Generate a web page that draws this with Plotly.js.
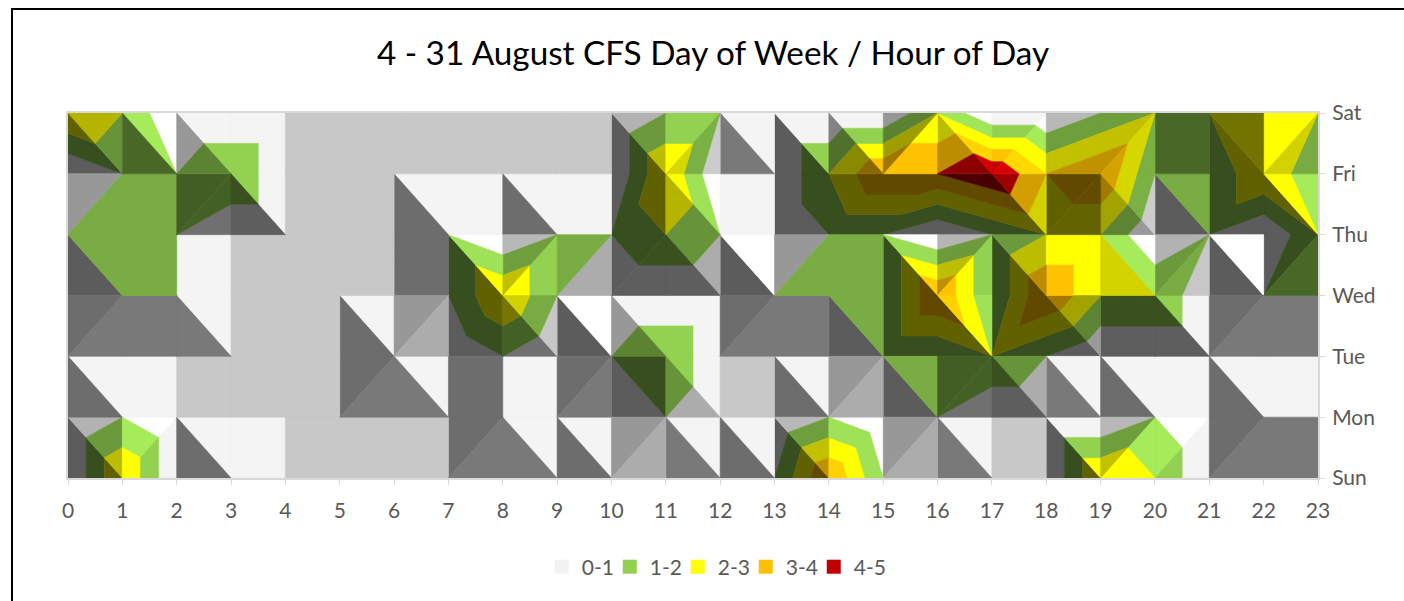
<!DOCTYPE html>
<html><head><meta charset="utf-8">
<script src="https://cdn.plot.ly/plotly-3.0.1.min.js"></script>
<style>
html,body{margin:0;padding:0;background:#fff;overflow:hidden}
#frame{position:absolute;left:11px;top:8px;width:1400px;height:600px;border:2px solid #000;box-sizing:border-box;pointer-events:none;z-index:5}
#chart{position:absolute;left:0;top:0;width:1404px;height:601px}
</style></head><body>
<div id="chart"></div><div id="frame"></div>
<script>
const hours = [0,1,2,3,4,5,6,7,8,9,10,11,12,13,14,15,16,17,18,19,20,21,22,23];
const days = ["Sun","Mon","Tue","Wed","Thu","Fri","Sat"];
const sun = [0,3,0,1,0,0,0,0,0,0,1,0,0,1,4,1,0,0,0,3,2,0,0,0];
const mon = [0,1,0,0,0,0,0,0,1,0,0,1,0,0,1,0,1,0,0,0,1,0,1,1];
const tue = [0,0,0,0,0,0,1,0,1,0,1,2,0,0,0,1,1,2,1,0,0,0,0,0];
const wed = [0,1,1,0,0,0,0,1,3,1,0,0,0,1,1,1,4,1,4,2,2,0,1,1];
const thu = [1,1,1,0,0,0,0,1,0,1,1,2,1,0,1,1,0,1,2,2,0,1,0,2];
const fri = [0,1,1,2,0,0,0,0,0,0,0,3,0,0,2,4,4,5,3,4,1,1,3,1];
const sat = [3,2,0,0,0,0,0,0,0,0,0,1,1,0,0,0,2,0,0,1,2,2,3,2];
const bandNames = ["0-1","1-2","2-3","3-4","4-5"];
const bandColors = [[242,242,242],[146,208,80],[255,255,0],[255,192,0],[192,0,0]];

const grid = [sun,mon,tue,wed,thu,fri,sat];

// Excel-like facet lighting from the slope of a triangle
function shade(gx,gy){
  if(gx===0&&gy===0) return 0.826;
  const m=Math.sqrt(gx*gx+gy*gy+1), nx=-gx/m, ny=-gy/m, nz=1/m;
  let raw=0.695+0.131*nz+0.478*nx+0.407*ny;
  if(nx>0&&ny>0) return 1+0.13*Math.min(1,2*Math.min(nx,ny)/Math.max(nx,ny));
  if(gx*gy<0) raw-=0.1+0.05*(Math.max(Math.abs(gx),Math.abs(gy))-1);
  if(raw>1.01) return 1.01;
  return Math.max(raw,0.38);
}
// clip a triangle [x,y,z] to lo<=z<=hi
function clip(poly,level,keepAbove){
  const out=[];
  for(let i=0;i<poly.length;i++){
    const a=poly[i],b=poly[(i+1)%poly.length];
    const ina=keepAbove?a[2]>=level:a[2]<=level, inb=keepAbove?b[2]>=level:b[2]<=level;
    if(ina) out.push(a);
    if(ina!==inb){const t=(level-a[2])/(b[2]-a[2]);out.push([a[0]+t*(b[0]-a[0]),a[1]+t*(b[1]-a[1]),level]);}
  }
  return out;
}
const groups={};
function addFacet(p,q,r,gx,gy){
  const f=shade(gx,gy);
  const flat=gx===0&&gy===0;
  bandColors.forEach((c,k)=>{
    if(flat && Math.min(Math.floor(p[2]),4)!==k) return;
    let poly=[p,q,r];
    if(!flat){
      poly=clip(poly,k,true); if(poly.length<3) return;
      poly=clip(poly,k+1,false); if(poly.length<3) return;
      let area=0;
      for(let i=0;i<poly.length;i++){const a=poly[i],b=poly[(i+1)%poly.length];area+=a[0]*b[1]-b[0]*a[1];}
      if(Math.abs(area)<1e-9) return;
    }
    const col="rgb("+c.map(v=>Math.min(255,Math.round(v*f))).join(",")+")";
    const g=groups[col]||(groups[col]={x:[],y:[]});
    poly.forEach(pt=>{g.x.push(pt[0]);g.y.push(pt[1]);});
    g.x.push(poly[0][0],null);g.y.push(poly[0][1],null);
  });
}
for(let j=0;j<days.length-1;j++){
  for(let i=0;i<hours.length-1;i++){
    const BL=[i,j,grid[j][i]],BR=[i+1,j,grid[j][i+1]],TL=[i,j+1,grid[j+1][i]],TR=[i+1,j+1,grid[j+1][i+1]];
    if(TL[2]+BR[2]>=TR[2]+BL[2]){
      addFacet(TL,BL,BR,BR[2]-BL[2],TL[2]-BL[2]);
      addFacet(TL,TR,BR,TR[2]-TL[2],TR[2]-BR[2]);
    }else{
      addFacet(BL,TL,TR,TR[2]-TL[2],TL[2]-BL[2]);
      addFacet(BL,BR,TR,BR[2]-BL[2],TR[2]-BR[2]);
    }
  }
}
const traces=Object.keys(groups).map(col=>({
  type:"scatter",mode:"lines",x:groups[col].x,y:groups[col].y,fill:"toself",fillcolor:col,
  line:{color:col,width:0.6},hoverinfo:"skip",showlegend:false,connectgaps:false
}));
bandNames.forEach((n,k)=>traces.push({
  type:"scatter",mode:"markers",x:[null],y:[null],name:n,showlegend:true,
  marker:{symbol:"square",size:14,color:"rgb("+bandColors[k].join(",")+")"}
}));
const tickFont={family:"Lato, Carlito, sans-serif",size:21,color:"#595959"};
Plotly.newPlot("chart",traces,{
  width:1404,height:601,paper_bgcolor:"#fff",plot_bgcolor:"#fff",
  margin:{l:68,r:86,t:113,b:123,pad:0},
  title:{text:"4 - 31 August CFS Day of Week / Hour of Day",font:{family:"Lato, Carlito, sans-serif",size:33.3,color:"#000"},x:713/1404,xanchor:"center",y:1-53/601,yanchor:"middle"},
  xaxis:{range:[0,23],tickmode:"array",tickvals:hours,ticktext:hours.map(String),ticks:"outside",ticklen:5,tickcolor:"#d9d9d9",tickwidth:1,ticklabelstandoff:8,
    showgrid:false,zeroline:false,showline:true,linecolor:"#d9d9d9",linewidth:2,mirror:true,tickfont:tickFont},
  yaxis:{range:[0,6],side:"right",tickmode:"array",tickvals:days.map((d,i)=>i),ticktext:days,ticks:"outside",ticklen:5,tickcolor:"#d9d9d9",tickwidth:1,ticklabelstandoff:3,
    showgrid:false,zeroline:false,showline:true,linecolor:"#d9d9d9",linewidth:2,mirror:true,tickfont:tickFont},
  showlegend:true,
  legend:{orientation:"h",x:0.515,xanchor:"center",y:-0.244,yanchor:"middle",font:tickFont,itemwidth:30,entrywidth:23,entrywidthmode:"pixels",itemclick:false,itemdoubleclick:false,traceorder:"normal",bgcolor:"rgba(0,0,0,0)"}
},{displayModeBar:false,staticPlot:true}).then(gd=>{
  gd.querySelectorAll(".legend [clip-path]").forEach(e=>e.removeAttribute("clip-path"));
  gd.querySelectorAll(".legend .scrollbox").forEach(e=>e.style.clipPath="none");
});
</script></body></html>
